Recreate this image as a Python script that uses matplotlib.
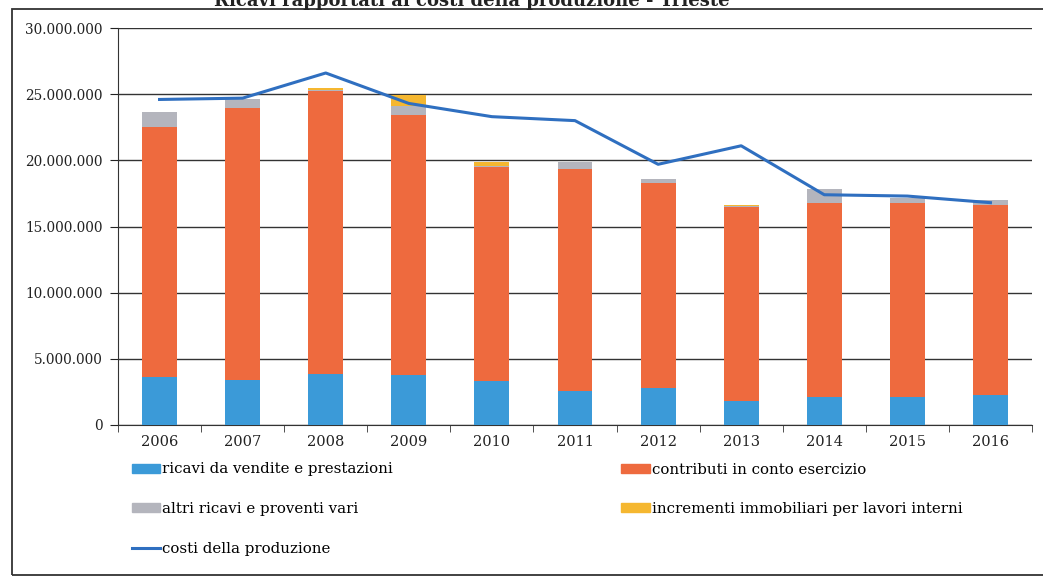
import numpy as np
import matplotlib
matplotlib.use('Agg')
import matplotlib.pyplot as plt
from matplotlib.patches import Rectangle
from matplotlib.lines import Line2D
from matplotlib.ticker import FuncFormatter

# data (euro)
years = ['2006', '2007', '2008', '2009', '2010', '2011', '2012', '2013', '2014', '2015', '2016']
ricavi_vendite = [3.60e6, 3.42e6, 3.85e6, 3.78e6, 3.30e6, 2.55e6, 2.80e6, 1.85e6, 2.15e6, 2.15e6, 2.25e6]
contributi = [18.95e6, 20.54e6, 21.42e6, 19.67e6, 16.16e6, 16.81e6, 15.48e6, 14.62e6, 14.60e6, 14.65e6, 14.40e6]
altri_ricavi = [1.10e6, 0.70e6, 0.08e6, 0.68e6, 0.10e6, 0.50e6, 0.30e6, 0.10e6, 1.10e6, 0.33e6, 0.33e6]
incrementi = [0.0, 0.0, 0.12e6, 0.80e6, 0.35e6, 0.02e6, 0.0, 0.02e6, 0.02e6, 0.02e6, 0.02e6]
costi_produzione = [24.6e6, 24.7e6, 26.6e6, 24.3e6, 23.3e6, 23.0e6, 19.7e6, 21.1e6, 17.4e6, 17.3e6, 16.8e6]

yticks = [0, 5e6, 10e6, 15e6, 20e6, 25e6, 30e6]

c_blue = '#3b9ad8'
c_orange = '#ee6a3e'
c_gray = '#b4b5bd'
c_yellow = '#f5b730'
c_line = '#2f6fc0'

plt.rcParams['font.family'] = ['DejaVu Serif']

fig = plt.figure(figsize=(10.43, 5.8), dpi=100)

# scanned page frame and the title, cut off at the top edge like in the scan
fig.patches.append(Rectangle((12 / 1043, 5 / 580), 1.2, (571 - 5) / 580,
                             transform=fig.transFigure, fill=False,
                             edgecolor='#333333', linewidth=1.3))
fig.text(730 / 1043, 1 - 6 / 580, 'Ricavi rapportati ai costi della produzione - Trieste',
         ha='right', va='baseline', fontsize=13, fontweight='bold', color='#222222')

ax = fig.add_axes([118 / 1043, 1 - 425 / 580, (1032 - 118) / 1043, (425 - 28) / 580])

x = np.arange(len(years))
w = 0.42
b1 = np.array(ricavi_vendite)
b2 = b1 + np.array(contributi)
b3 = b2 + np.array(altri_ricavi)

ax.bar(x, ricavi_vendite, w, color=c_blue, zorder=3)
ax.bar(x, contributi, w, bottom=b1, color=c_orange, zorder=3)
ax.bar(x, altri_ricavi, w, bottom=b2, color=c_gray, zorder=3)
ax.bar(x, incrementi, w, bottom=b3, color=c_yellow, zorder=3)
ax.plot(x, costi_produzione, color=c_line, linewidth=2.2, zorder=4)

ax.set_xlim(-0.5, len(years) - 0.5)
ax.set_ylim(0, 30e6)
ax.set_yticks(yticks)
ax.yaxis.set_major_formatter(FuncFormatter(lambda v, p: f'{int(v):,}'.replace(',', '.')))
ax.grid(axis='y', color='#333333', linewidth=1.0, zorder=0)

ax.set_xticks(x)
ax.set_xticklabels(years)
ax.set_xticks(np.arange(len(years) + 1) - 0.5, minor=True)
ax.tick_params(axis='x', which='major', length=0, pad=7, labelsize=10.5, colors='#222222')
ax.tick_params(axis='x', which='minor', length=5, direction='out', color='#333333')
ax.tick_params(axis='y', length=6, direction='out', labelsize=9.8, pad=5, colors='#222222')

for s in ['top', 'right']:
    ax.spines[s].set_visible(False)
ax.spines['left'].set_color('#333333')
ax.spines['bottom'].set_color('#333333')

# legend laid out like the original: 2 columns, 3 rows
handles = [
    Rectangle((0, 0), 1, 1, color=c_blue),
    Rectangle((0, 0), 1, 1, color=c_gray),
    Line2D([0], [0], color=c_line, linewidth=2.2),
    Rectangle((0, 0), 1, 1, color=c_orange),
    Rectangle((0, 0), 1, 1, color=c_yellow),
]
labels = ['ricavi da vendite e prestazioni', 'altri ricavi e proventi vari', 'costi della produzione',
          'contributi in conto esercizio', 'incrementi immobiliari per lavori interni']
fig.legend(handles, labels, ncol=2, loc='upper left', bbox_to_anchor=(118 / 1043, 1 - 449 / 580),
           frameon=False, fontsize=10.8, handlelength=1.9, handleheight=0.55, handletextpad=0.15,
           labelspacing=1.7, columnspacing=15.2)

fig.savefig('out.png', dpi=100)
